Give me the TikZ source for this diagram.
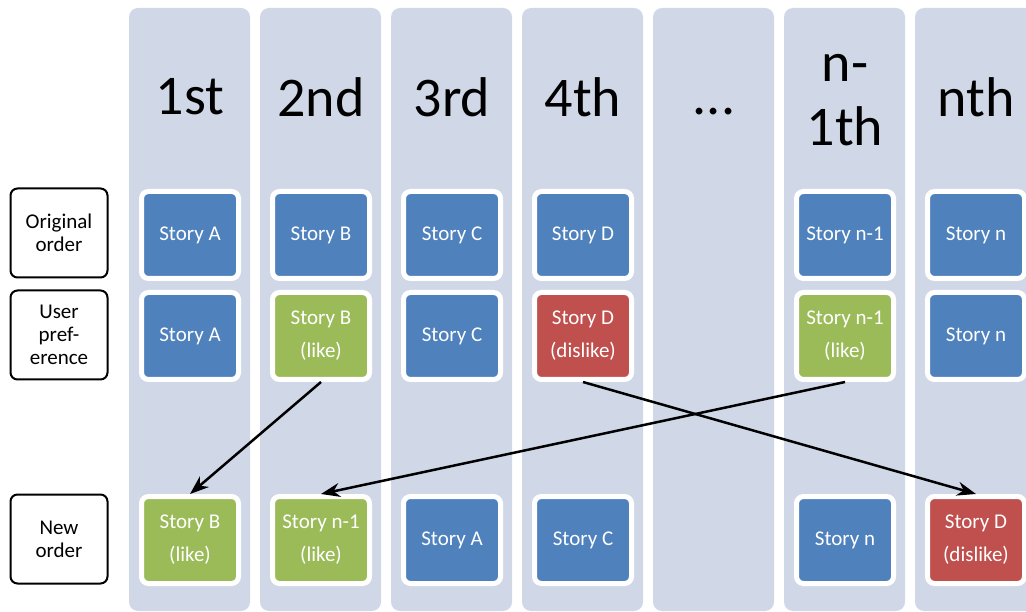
\documentclass[tikz,border=0pt]{standalone}
\usepackage{fontspec}
\setmainfont{Carlito}
\usetikzlibrary{arrows}
\usetikzlibrary{arrows.meta}
\usetikzlibrary{positioning}
\definecolor{colbg}{HTML}{D0D8E8}
\definecolor{storyblue}{HTML}{4F81BD}
\definecolor{storygreen}{HTML}{9BBB59}
\definecolor{storyred}{HTML}{C0504D}

\begin{document}
\begin{tikzpicture}[->,>={Stealth[length=19pt,width=14pt]}, x=1pt, y=-1pt]
			\tikzset{story/.style = {shape=rectangle, rounded corners=7pt, draw=white, line width=5pt, text=white,
					minimum width=97pt, minimum height=87pt, align=center, font=\fontsize{21}{33}\selectfont}}
			\tikzset{rowlabel/.style = {shape=rectangle, rounded corners=7pt, draw, line width=2pt, fill=white,
					minimum width=97pt, minimum height=89pt, align=center, font=\fontsize{21}{23}\selectfont}}
			\tikzset{colhead/.style = {align=center, font=\fontsize{56}{64}\selectfont}}
			\useasboundingbox (0,0) rectangle (1026,612);
			% position columns
			\foreach \x in {129,260,391,522,653,784,915}
			\fill[colbg, rounded corners=9pt] (\x,8) rectangle ++(121,603);
			
			% headers
			\node[colhead] (H1) at (190,97) {1st};
			\node[colhead] (H2) at (321,97) {2nd};
			\node[colhead] (H3) at (452,97) {3rd};
			\node[colhead] (H4) at (583,97) {4th};
			\node[colhead] (H5) at (714,97) {\vphantom{1}...};
			\node[colhead] (H6) at (845,100) {n-\\1th};
			\node[colhead] (H7) at (976,97) {nth};
			
			% row labels
			\node[rowlabel] (ORIG) at (59,233) {Original\\order};
			\node[rowlabel] (PREF) at (59,335) {User\\pref-\\erence};
			\node[rowlabel] (NEW) at (59,539) {New\\order};
			
			% original order
			\node[story, fill=storyblue] (O1) at (190,235) {Story A};
			\node[story, fill=storyblue] (O2) at (321,235) {Story B};
			\node[story, fill=storyblue] (O3) at (452,235) {Story C};
			\node[story, fill=storyblue] (O4) at (583,235) {Story D};
			\node[story, fill=storyblue] (O6) at (845,235) {Story n-1};
			\node[story, fill=storyblue] (O7) at (976,235) {Story n};
			
			% user preference
			\node[story, fill=storyblue] (U1) at (190,336) {Story A};
			\node[story, fill=storygreen] (U2) at (321,336) {Story B\\(like)};
			\node[story, fill=storyblue] (U3) at (452,336) {Story C};
			\node[story, fill=storyred] (U4) at (583,336) {Story D\\(dislike)};
			\node[story, fill=storygreen] (U6) at (845,336) {Story n-1\\(like)};
			\node[story, fill=storyblue] (U7) at (976,336) {Story n};
			
			% new order
			\node[story, fill=storygreen] (N1) at (190,540) {Story B\\(like)};
			\node[story, fill=storygreen] (N2) at (321,540) {Story n-1\\(like)};
			\node[story, fill=storyblue] (N3) at (452,540) {Story A};
			\node[story, fill=storyblue] (N4) at (583,540) {Story C};
			\node[story, fill=storyblue] (N6) at (845,540) {Story n};
			\node[story, fill=storyred] (N7) at (976,540) {Story D\\(dislike)};
			
			\draw[line width=2.5pt] (U2.south) -- (N1.north);
			\draw[line width=2.5pt] (U6.south) -- (N2.north);
			\draw[line width=2.5pt] (U4.south) -- (N7.north);
\end{tikzpicture}
\end{document}
